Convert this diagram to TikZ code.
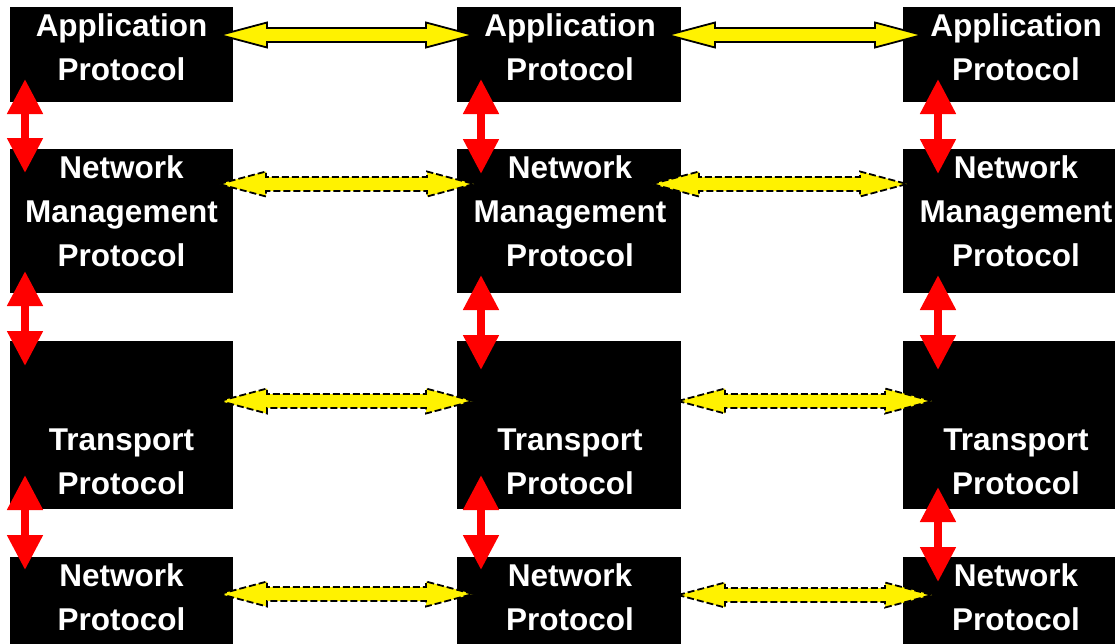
\documentclass[tikz,border=0pt]{standalone}
\usepackage{fontspec}
\setmainfont{Liberation Sans}
\usetikzlibrary{arrows.meta,calc}

% geometry of the yellow block arrows
\def\yhead{47pt}   % head length
\def\yhw{12.5pt}   % half width of the head
\def\ysw{7pt}      % half width of the shaft

% horizontal double block arrow between two named coordinates
\newcommand\blockarrow[3][]{%
  \path[yellowarrow,#1] let \p1=(#2), \p2=(#3) in
    (\x1,\y1) -- ({\x1+\yhead},{\y1+\yhw}) -- ({\x1+\yhead},{\y1+\ysw})
    -- ({\x2-\yhead},{\y1+\ysw}) -- ({\x2-\yhead},{\y1+\yhw}) -- (\x2,\y1)
    -- ({\x2-\yhead},{\y1-\yhw}) -- ({\x2-\yhead},{\y1-\ysw})
    -- ({\x1+\yhead},{\y1-\ysw}) -- ({\x1+\yhead},{\y1-\yhw}) -- cycle;}

\tikzset{
  layer/.style={fill=black, draw=none, inner sep=0pt, anchor=north west},
  label/.style={text=white, font=\fontsize{31.5}{44}\selectfont\bfseries,
                align=center, inner sep=0pt, anchor=north},
  yellowarrow/.style={fill=yellow, draw=black, line width=1.8pt, line join=miter},
  dashedarrow/.style={dash pattern=on 7pt off 3pt},
  redarrow/.style={draw=red, line width=8pt,
    {Triangle[width=34pt,length=35pt]}-{Triangle[width=34pt,length=35pt]}},
}

\begin{document}
\begin{tikzpicture}[x=1pt,y=-1pt]
\useasboundingbox (0,0) rectangle (1115,643);
\clip (0,0) rectangle (1115,643);

% protocol layers: three stacks of four
\foreach \c/\x/\w in {1/10/223, 2/457/224, 3/903/224}{
  \node[layer, minimum width=\w pt, minimum height=95pt]  (app\c) at (\x,7)   {};
  \node[layer, minimum width=\w pt, minimum height=144pt] (nmp\c) at (\x,149) {};
  \node[layer, minimum width=\w pt, minimum height=168pt] (tp\c)  at (\x,341) {};
  \node[layer, minimum width=\w pt, minimum height=123pt] (np\c)  at (\x,557) {};
}

% layer names
\foreach \c/\x in {1/121.5, 2/570, 3/1016}{
  \node[label] (appt\c) at (\x,13.5)  {Application\\Protocol};
  \node[label] (nmpt\c) at (\x,155)   {Network\\Management\\Protocol};
  \node[label] (tpt\c)  at (\x,429)   {Transport\\Protocol};
  \node[label] (npt\c)  at (\x,563.5) {Network\\Protocol};
}

% end points of the peer-to-peer arrows
\coordinate (h1a) at (220,35);  \coordinate (h1b) at (473,35);
\coordinate (h1c) at (668,35);  \coordinate (h1d) at (922,35);
\coordinate (h2a) at (219,184); \coordinate (h2b) at (474,184);
\coordinate (h2c) at (652,184); \coordinate (h2d) at (907,184);
\coordinate (h3a) at (220,401); \coordinate (h3b) at (473,401);
\coordinate (h3c) at (678,401); \coordinate (h3d) at (932,401);
\coordinate (h4a) at (220,594); \coordinate (h4b) at (473,594);
\coordinate (h4c) at (678,595); \coordinate (h4d) at (932,595);

% peer-to-peer arrows
\blockarrow{h1a}{h1b}
\blockarrow{h1c}{h1d}
\blockarrow[dashedarrow]{h2a}{h2b}
\blockarrow[dashedarrow]{h2c}{h2d}
\blockarrow[dashedarrow]{h3a}{h3b}
\blockarrow[dashedarrow]{h3c}{h3d}
\blockarrow[dashedarrow]{h4a}{h4b}
\blockarrow[dashedarrow]{h4c}{h4d}

% end points of the inter-layer arrows
\coordinate (v11a) at (25,79);   \coordinate (v11b) at (25,173);
\coordinate (v12a) at (25,271);  \coordinate (v12b) at (25,366);
\coordinate (v13a) at (25,475);  \coordinate (v13b) at (25,570);
\coordinate (v21a) at (481,79);  \coordinate (v21b) at (481,174);
\coordinate (v22a) at (481,275); \coordinate (v22b) at (481,370);
\coordinate (v23a) at (481,475); \coordinate (v23b) at (481,570);
\coordinate (v31a) at (938,79);  \coordinate (v31b) at (938,174);
\coordinate (v32a) at (938,275); \coordinate (v32b) at (938,370);
\coordinate (v33a) at (938,487); \coordinate (v33b) at (938,582);

% inter-layer arrows
\foreach \c in {1,2,3}{
  \foreach \r in {1,2,3}{
    \draw[redarrow] (v\c\r a) -- (v\c\r b);
  }
}
\end{tikzpicture}
\end{document}
